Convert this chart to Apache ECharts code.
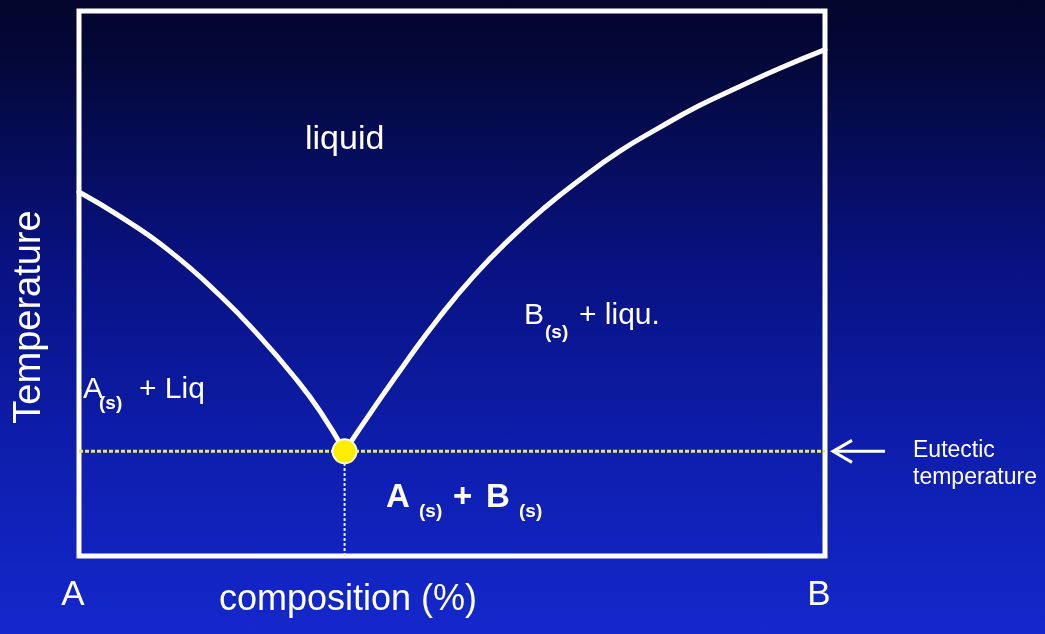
<!DOCTYPE html>
<html>
<head>
<meta charset="utf-8">
<script src="https://cdn.jsdelivr.net/npm/echarts@6/dist/echarts.min.js"></script>
<style>
  html, body { margin: 0; padding: 0; width: 1045px; height: 634px; overflow: hidden; }
  body { background: linear-gradient(to bottom, #03052c 0%, #04083a 10%, #081282 42%, #0e1eae 72%, #1428cc 100%); }
  #chart { width: 1045px; height: 634px; }
</style>
</head>
<body>
<div id="chart"></div>
<script>
// Binary eutectic phase diagram: composition (% B) vs temperature (relative units)
const liquidusA = [[0, 66.8], [5.5, 62.3], [12.2, 55.9], [18.9, 47.8], [24.2, 40.3], [28.9, 32.8], [32.3, 26.6], [35.6, 19.2]];
const liquidusB = [[35.6, 19.2], [39.4, 26.9], [43.9, 35.7], [48.3, 43.8], [53.0, 51.5], [57.7, 58.1], [62.4, 63.9], [67.1, 69.0], [72.4, 74.2], [77.8, 78.6], [83.1, 82.6], [88.5, 86.1], [93.8, 89.4], [100, 92.9]];
const eutectic = [35.6, 19.2];
const endLabels = ['A', 'B'];
const compRange = [0, 100];
const tempRange = [0, 100];

const FONT = '"Liberation Sans", Arial, sans-serif';
const chart = echarts.init(document.getElementById('chart'));

const white = '#ffffff';

function txt(x, y, text, size, weight, extra) {
  return Object.assign({
    type: 'text', x: x, y: y, z: 10,
    style: {
      text: text, fill: white,
      font: (weight || 'normal') + ' ' + size + 'px ' + FONT,
      textVerticalAlign: 'middle'
    }
  }, extra || {});
}

const curveStyle = { color: white, width: 5, cap: 'round', join: 'round' };

const option = {
  animation: false,
  backgroundColor: 'transparent',
  grid: {
    left: 79, right: 220, top: 11, bottom: 78,
    show: true, borderColor: white, borderWidth: 5, backgroundColor: 'transparent'
  },
  xAxis: {
    type: 'value', min: compRange[0], max: compRange[1], interval: 100,
    axisLine: { show: false }, axisTick: { show: false }, splitLine: { show: false },
    axisLabel: {
      color: white, fontSize: 35, fontFamily: FONT, margin: 22,
      padding: [0, 12, 0, 0],
      formatter: v => (v === compRange[0] ? endLabels[0] : endLabels[1])
    }
  },
  yAxis: {
    type: 'value', min: tempRange[0], max: tempRange[1],
    axisLine: { show: false }, axisTick: { show: false }, splitLine: { show: false },
    axisLabel: { show: false }
  },
  series: [
    {
      type: 'line', data: [[compRange[0], eutectic[1]], [compRange[1], eutectic[1]]],
      symbol: 'none', z: 3,
      lineStyle: { color: '#ece47a', width: 3, type: [4, 2] }
    },
    {
      type: 'line', data: [[eutectic[0], tempRange[0]], [eutectic[0], eutectic[1]]],
      symbol: 'none', z: 3,
      lineStyle: { color: '#e8eaf6', width: 2, type: [3, 2] }
    },
    {
      type: 'line', data: liquidusA, smooth: 0.5, symbol: 'none', z: 4,
      lineStyle: curveStyle
    },
    {
      type: 'line', data: liquidusB, smooth: 0.5, symbol: 'none', z: 4,
      lineStyle: curveStyle
    },
    {
      type: 'scatter', data: [eutectic], symbolSize: 24, z: 8,
      itemStyle: { color: '#ffee00', borderColor: '#fffbd0', borderWidth: 2, opacity: 1 }
    }
  ]
};

chart.setOption(option);

// Annotations: phase regions, axis titles, and the eutectic pointer
const ep = chart.convertToPixel({ gridIndex: 0 }, [compRange[1], eutectic[1]]);
const ey = ep[1];
const ex = ep[0];

const graphics = [
  txt(305, 140, 'liquid', 34),

  txt(524, 316, 'B', 30),
  txt(545, 333, '(s)', 19, 'bold'),
  txt(579, 316, '+ liqu.', 30),

  txt(83, 390, 'A', 30),
  txt(99, 404, '(s)', 19, 'bold'),
  txt(139, 390, '+ Liq', 30),

  txt(386, 498, 'A', 33, 'bold'),
  txt(419, 512, '(s)', 19, 'bold'),
  txt(453, 498, '+', 33, 'bold'),
  txt(486, 498, 'B', 33, 'bold'),
  txt(519, 512, '(s)', 19, 'bold'),

  txt(219, 600, 'composition (%)', 36),

  {
    type: 'text', x: 30, y: 317, rotation: Math.PI / 2, z: 10,
    style: {
      text: 'Temperature', fill: white, font: 'normal 38px ' + FONT,
      textAlign: 'center', textVerticalAlign: 'middle'
    }
  },

  txt(913, ey - 1, 'Eutectic', 23),
  txt(913, ey + 26, 'temperature', 23),

  // arrow pointing to the eutectic line
  { type: 'line', z: 10, shape: { x1: ex + 8, y1: ey, x2: ex + 60, y2: ey }, style: { stroke: white, lineWidth: 3 } },
  { type: 'polyline', z: 10, shape: { points: [[ex + 27, ey - 11], [ex + 8, ey], [ex + 27, ey + 11]] }, style: { stroke: white, lineWidth: 3, fill: null } }
];

chart.setOption({ graphic: graphics });
</script>
</body>
</html>
